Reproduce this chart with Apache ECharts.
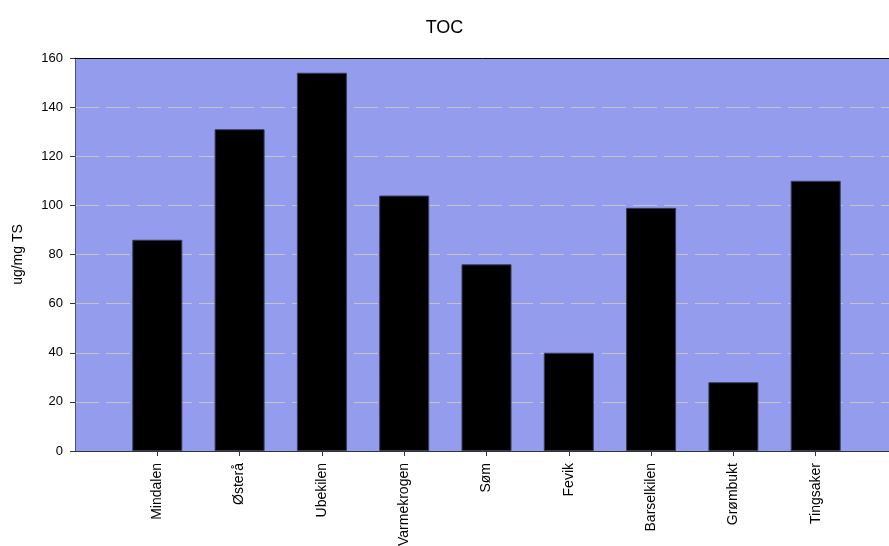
<!DOCTYPE html>
<html><head><meta charset="utf-8">
<script src="https://cdn.jsdelivr.net/npm/echarts@6/dist/echarts.min.js"></script>
<style>html,body{margin:0;padding:0;background:#fff}#c{width:889px;height:546px}</style>
</head><body><div id="c"></div>
<script>
const categories = ['', 'Mindalen', 'Østerå', 'Ubekilen', 'Varmekrogen', 'Søm', 'Fevik', 'Barselkilen', 'Grømbukt', 'Tingsaker', ''];
const tocValues = [null, 86, 131, 154, 104, 76, 40, 99, 28, 110, null];
const yTicks = {min: 0, max: 160, interval: 20};
const titleText = 'TOC';
const yName = 'ug/mg TS';

const chart = echarts.init(document.getElementById('c'), null, {renderer: 'canvas'});
const font = 'Liberation Sans, Arial, sans-serif';
chart.setOption({
  animation: false,
  title: {text: titleText, left: 'center', top: 14, textStyle: {fontFamily: font, fontSize: 18, fontWeight: 'normal', color: '#000'}},
  grid: {left: 75, top: 58, height: 393, width: 823, show: true, backgroundColor: '#949CEE', borderWidth: 0,
         outerBoundsMode: 'none', containLabel: false},
  xAxis: [{
    type: 'category', data: categories, boundaryGap: false,
    axisLine: {lineStyle: {color: '#333', width: 1}},
    axisTick: {length: 5, lineStyle: {color: '#333'}, interval: (i) => i > 0 && i < categories.length - 1},
    axisLabel: {rotate: 90, margin: 12, fontFamily: font, fontSize: 14, color: '#000', interval: 0},
    splitLine: {show: false}
  }, {
    type: 'category', data: categories, boundaryGap: false, position: 'top', z: 5,
    axisLine: {show: true, lineStyle: {color: '#000', width: 1}},
    axisTick: {show: false}, axisLabel: {show: false}, splitLine: {show: false}
  }],
  yAxis: {
    type: 'value', min: yTicks.min, max: yTicks.max, interval: yTicks.interval,
    name: yName, nameLocation: 'middle', nameGap: 50, nameRotate: 90,
    nameTextStyle: {fontFamily: font, fontSize: 14, color: '#000'},
    axisLine: {show: true, lineStyle: {color: '#555'}},
    axisTick: {show: true, length: 5, lineStyle: {color: '#333'}},
    axisLabel: {fontFamily: font, fontSize: 13, color: '#000', margin: 12},
    splitLine: {show: true, lineStyle: {color: '#C4C4C4', type: [24, 7], width: 1}}
  },
  series: [{
    type: 'bar', data: tocValues, barWidth: 50, xAxisIndex: 0,
    itemStyle: {color: '#000', borderColor: '#3a3a5a', borderWidth: 1}
  }]
});
</script></body></html>
